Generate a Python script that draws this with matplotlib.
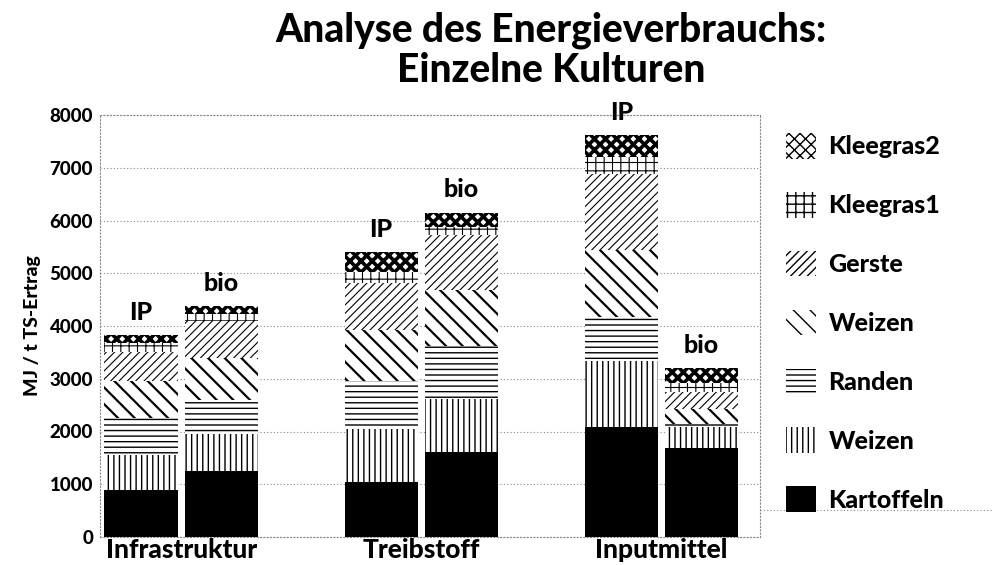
import matplotlib
matplotlib.use('Agg')
import matplotlib.pyplot as plt
import matplotlib.patches as mpatches
from matplotlib.lines import Line2D
import numpy as np

plt.rcParams['font.family'] = ['Lato', 'DejaVu Sans']
plt.rcParams['font.weight'] = 'black'
plt.rcParams['hatch.linewidth'] = 1.0

# Daten (MJ / t TS-Ertrag)
gruppen = ['Infrastruktur', 'Treibstoff', 'Inputmittel']
anbau = ['IP', 'bio']
kulturen = ['Kartoffeln', 'Weizen', 'Randen', 'Weizen', 'Gerste', 'Kleegras1', 'Kleegras2']

# Beiträge je Kultur, Reihenfolge der Balken: Infra IP, Infra bio, Treib IP, Treib bio, Input IP, Input bio
kartoffeln = [900, 1250, 1050, 1620, 2080, 1680]
weizen_1 = [650, 700, 1000, 1000, 1250, 400]
randen = [700, 650, 900, 1000, 840, 70]
weizen_2 = [700, 800, 980, 1060, 1280, 270]
gerste = [550, 700, 890, 1040, 1430, 320]
kleegras1 = [180, 130, 200, 160, 320, 180]
kleegras2 = [140, 150, 380, 270, 420, 280]

werte = [kartoffeln, weizen_1, randen, weizen_2, gerste, kleegras1, kleegras2]

# Darstellung
faces = ['black', 'white', 'white', 'white', 'white', 'white', 'white']
hatches = [None, '|||', '---', '\\\\', '////', '++', 'xxx']
hatch_lw = [1.0, 1.0, 1.0, 1.6, 0.8, 0.8, 2.6]

fig = plt.figure(figsize=(9.92, 5.65), dpi=100)
ax = fig.add_axes([100 / 992, 1 - 537 / 565, 660 / 992, 422 / 565])

xg = np.arange(len(gruppen))
off = 0.167
xs = []
for g in xg:
    xs += [g - off, g + off]
xs = np.array(xs)

bottom = np.zeros(len(xs))
handles = []
for i, v in enumerate(werte):
    bars = ax.bar(xs, v, width=0.305, bottom=bottom, color=faces[i],
                  edgecolor='black', linewidth=0, hatch=hatches[i], zorder=3)
    for b in bars:
        if hasattr(b, 'set_hatch_linewidth'):
            b.set_hatch_linewidth(hatch_lw[i])
    bottom = bottom + np.array(v)
    h = mpatches.Patch(facecolor=faces[i], edgecolor='black', linewidth=0,
                       hatch=hatches[i])
    if hasattr(h, 'set_hatch_linewidth'):
        h.set_hatch_linewidth(hatch_lw[i])
    handles.append(h)

# IP / bio Beschriftung
for x, top, k in zip(xs, bottom, anbau * len(gruppen)):
    ax.annotate(k, (x, top), xytext=(0, 8), textcoords='offset points',
                ha='center', va='bottom', fontsize=18, fontweight='black')

ax.set_xlim(-0.3375, 2.41)
ax.set_ylim(0, 8000)
ax.set_yticks(np.arange(0, 8001, 1000))
ax.set_yticklabels([str(t) for t in range(0, 8001, 1000)], fontsize=13.5, fontweight='black')
ax.set_xticks(xg)
ax.set_xticklabels(gruppen, fontsize=19, fontweight='black')
ax.tick_params(axis='y', length=0, pad=5)
ax.tick_params(axis='x', length=0, pad=1)
ax.set_ylabel('MJ / t TS-Ertrag', fontsize=14, fontweight='black', labelpad=6)
ax.grid(axis='y', linestyle=(0, (1, 2)), color='#888888', linewidth=0.8, zorder=0)
for s in ax.spines.values():
    s.set_linestyle((0, (1, 2)))
    s.set_color('#888888')
    s.set_linewidth(0.8)

# Titel
fig.text(551 / 992, 1 - 50 / 565, 'Analyse des Energieverbrauchs:\nEinzelne Kulturen',
         ha='center', va='center', fontsize=28, fontweight='black', linespacing=1.1)

# Legende
leg = fig.legend(handles[::-1], kulturen[::-1], loc='upper left',
                 bbox_to_anchor=(786 / 992, 1 - 133 / 565), frameon=False,
                 fontsize=18, handlelength=1.2, handleheight=1.2,
                 labelspacing=1.33, handletextpad=0.5, borderaxespad=0,
                 borderpad=0)
for t in leg.get_texts():
    t.set_fontweight('black')

fig.add_artist(Line2D([760 / 992, 992 / 992], [1 - 510 / 565, 1 - 510 / 565],
                      transform=fig.transFigure, linestyle=(0, (1, 2)),
                      color='#888888', linewidth=0.8))

fig.savefig('out.png', dpi=100)
